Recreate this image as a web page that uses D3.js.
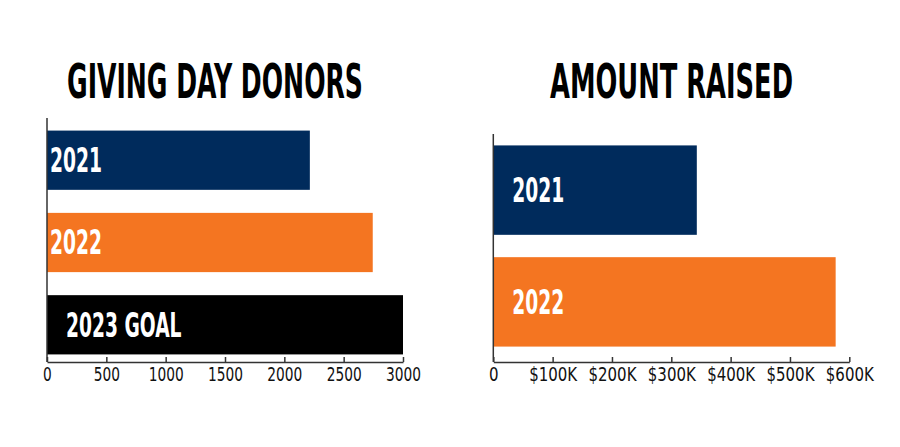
<!DOCTYPE html>
<html lang="en">
<head>
    <meta charset="UTF-8">
    <title>Giving Day</title>
    <style>
        body { margin: 0; background: #fff; }
        .title { font-family: "DejaVu Sans Condensed", "DejaVu Sans", sans-serif; font-weight: bold; fill: #000; }
        .barlabel { font-family: "DejaVu Sans Condensed", "DejaVu Sans", sans-serif; font-weight: bold; fill: #fff; }
        .tick text { font-family: "DejaVu Sans", sans-serif; font-size: 20px; fill: #111; }
        .tick line, .domain { stroke: #333; stroke-width: 1.5; }
    </style>
</head>
<body>
    <svg id="chart" width="900" height="447"></svg>
    <script src="https://d3js.org/d3.v7.min.js"></script>
    <script>
        // data
        const donorYears = ["2021", "2022", "2023 GOAL"];
        const donorCounts = [2215, 2745, 3000];
        const donorTicks = [0, 500, 1000, 1500, 2000, 2500, 3000];

        const raisedYears = ["2021", "2022"];
        const raisedAmounts = [343000, 577000];
        const raisedTicks = [0, 100000, 200000, 300000, 400000, 500000, 600000];
        const raisedTickLabels = ["0", "$100K", "$200K", "$300K", "$400K", "$500K", "$600K"];

        const barColors = ["#002b5c", "#f47521", "#000000"];

        const svg = d3.select('#chart');
        const axisY = 362;

        // title squeezed horizontally with a transform so it spans 'len' px
        function titleText(cx, text, len) {
            const g = svg.append('g');
            const t = g.append('text')
                .attr('class', 'title')
                .attr('x', 0)
                .attr('y', 0)
                .attr('text-anchor', 'middle')
                .attr('font-size', 48)
                .text(text);
            const k = len / t.node().getComputedTextLength();
            g.attr('transform', `translate(${cx},98) scale(${k},1)`);
        }

        // squeeze texts so the reference string gets the wanted width
        function condense(sel, refIndex, refWidth) {
            const nodes = sel.nodes();
            const k = refWidth / nodes[refIndex].getComputedTextLength();
            sel.each(function () {
                const w = this.getComputedTextLength();
                d3.select(this).attr('textLength', w * k).attr('lengthAdjust', 'spacingAndGlyphs');
            });
        }

        function drawPanel(opts) {
            const x = d3.scaleLinear().domain(opts.domain).range(opts.xRange);
            const y = d3.scaleBand().domain(opts.cats).range(opts.yRange)
                .paddingInner(opts.padIn).paddingOuter(opts.padOut);

            const g = svg.append('g');

            g.selectAll('rect')
                .data(opts.values)
                .join('rect')
                .attr('x', x(0))
                .attr('y', (d, i) => y(opts.cats[i]))
                .attr('width', d => x(d) - x(0))
                .attr('height', y.bandwidth())
                .attr('fill', (d, i) => barColors[i]);

            const labels = g.selectAll('text.barlabel')
                .data(opts.cats)
                .join('text')
                .attr('class', 'barlabel')
                .attr('x', (d, i) => x(0) + opts.labelPad[i])
                .attr('y', d => y(d) + y.bandwidth() / 2)
                .attr('dy', '0.36em')
                .attr('font-size', 33)
                .text(d => d);
            condense(labels, 0, 52);

            // vertical axis line
            g.append('line')
                .attr('x1', x(0)).attr('x2', x(0))
                .attr('y1', opts.lineTop).attr('y2', axisY)
                .attr('stroke', '#333').attr('stroke-width', 1.5);

            const axis = d3.axisBottom(x)
                .tickValues(opts.ticks)
                .tickFormat(opts.fmt)
                .tickSizeInner(-5)
                .tickSizeOuter(0)
                .tickPadding(5);

            const ax = g.append('g')
                .attr('transform', `translate(0,${axisY})`)
                .call(axis);
            ax.select('.domain').attr('stroke', '#333');
            condense(ax.selectAll('.tick text'), opts.tickRef, opts.tickRefWidth);
        }

        titleText(215, "GIVING DAY DONORS", 296);
        titleText(671.5, "AMOUNT RAISED", 243);

        drawPanel({
            cats: donorYears,
            values: donorCounts,
            domain: [0, 3000],
            xRange: [47, 403],
            yRange: [124, 361],
            padIn: 0.28,
            padOut: 0.08,
            lineTop: 118,
            labelPad: [3, 3, 19],
            ticks: donorTicks,
            fmt: d => d,
            tickRef: 6,
            tickRefWidth: 35
        });

        drawPanel({
            cats: raisedYears,
            values: raisedAmounts,
            domain: [0, 600000],
            xRange: [493.3, 849.3],
            yRange: [132, 360],
            padIn: 0.2,
            padOut: 0.12,
            lineTop: 134,
            labelPad: [19, 19],
            ticks: raisedTicks,
            fmt: (d, i) => raisedTickLabels[i],
            tickRef: 1,
            tickRefWidth: 48
        });
    </script>
</body>
</html>
